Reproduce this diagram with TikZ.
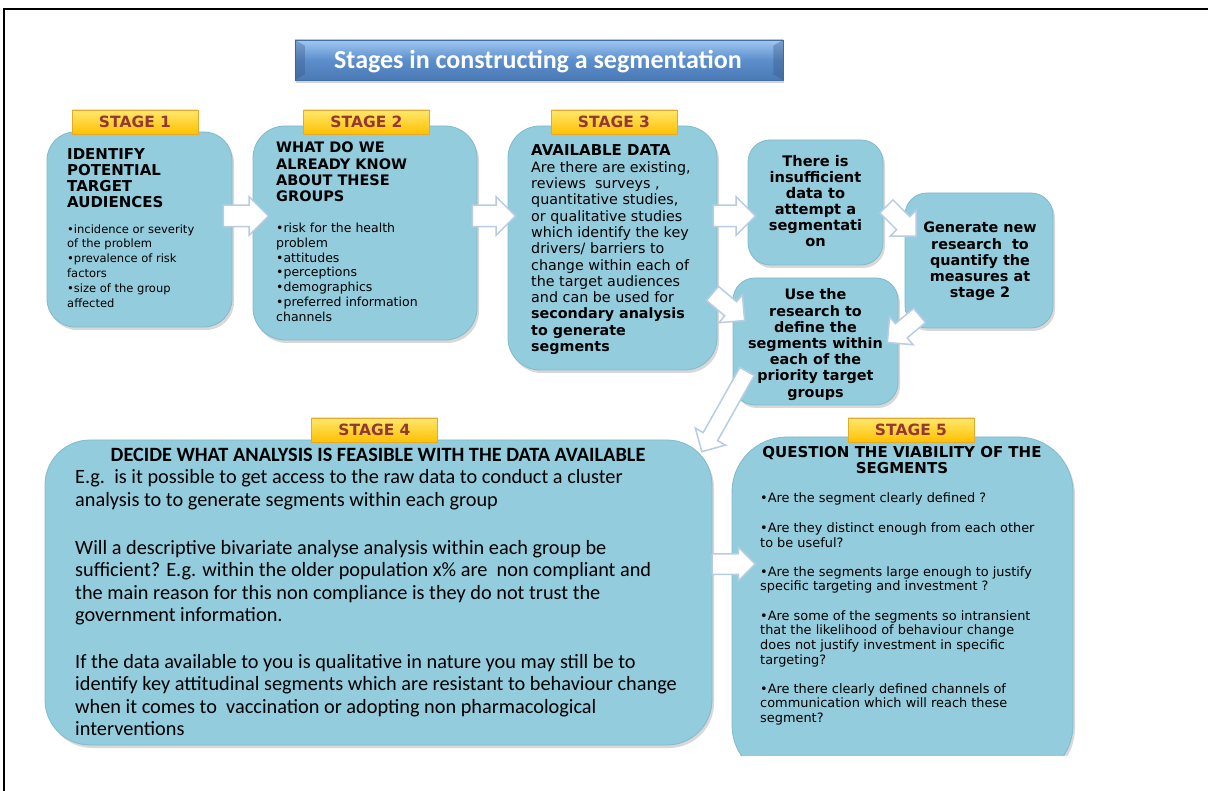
\documentclass[tikz,border=0pt]{standalone}
\usepackage{fontspec}
\setmainfont{DejaVu Sans}
\newfontfamily\calib{Carlito}
\usetikzlibrary{shapes.arrows,shadows}
\definecolor{boxblue}{RGB}{147,204,220}
\definecolor{boxedge}{RGB}{128,186,204}
\definecolor{arrowedge}{RGB}{184,204,228}
\definecolor{stagered}{RGB}{149,55,53}
\definecolor{yellowtop}{RGB}{255,232,110}
\definecolor{yellowbot}{RGB}{255,192,0}
\definecolor{yellowedge}{RGB}{230,170,40}
\definecolor{titletop}{RGB}{160,200,242}
\definecolor{titlemid}{RGB}{92,142,204}
\definecolor{titlebot}{RGB}{74,122,180}
\tikzset{
  box/.style={fill=boxblue, draw=boxedge, line width=0.8pt,
    drop shadow={shadow xshift=2pt, shadow yshift=-3pt, opacity=0.3, fill=gray}},
  stagelabel/.style={rectangle, minimum width=126, minimum height=24, inner sep=0,
    top color=yellowtop, bottom color=yellowbot, draw=yellowedge, line width=0.6pt,
    text=stagered, font=\bfseries\fontsize{15.5}{16}\selectfont},
  blockarrow/.style={single arrow, fill=white, draw=arrowedge, line width=1.5pt,
    inner xsep=0pt, single arrow head indent=0pt},
  txt/.style={anchor=base west, inner sep=0pt},
  ctxt/.style={anchor=base, inner sep=0pt},
}
\begin{document}
\begin{tikzpicture}[x=1pt,y=-1pt]
\useasboundingbox (0,0) rectangle (1208,791);
\fill[white] (0,0) rectangle (1208,791);
% frame (cut off on right and bottom)
\draw[line width=1.5pt] (4,791) -- (4,9) -- (1208,9);

% title
\node[rectangle, minimum width=488, minimum height=40, inner sep=0,
  top color=titletop, bottom color=titlebot, middle color=titlemid, draw=titlebot!90!black, line width=0.5pt,
  drop shadow={shadow xshift=1pt, shadow yshift=-3pt, opacity=0.35, fill=gray}] (title) at (539,60) {};
\fill[titlebot!70!black, opacity=0.35] (title.north west) -- ++(10,6) -- ([shift={(10,-6)}]title.south west) -- (title.south west) -- cycle;
\fill[titlebot!70!black, opacity=0.35] (title.north east) -- ++(-10,6) -- ([shift={(-10,-6)}]title.south east) -- (title.south east) -- cycle;
\node[text=white, font=\calib\bfseries\fontsize{26}{28}\selectfont, inner sep=0] (titletext) at (538,62) {Stages in constructing a segmentation};

% boxes
\node[box, minimum width=185, minimum height=195, rounded corners=28, inner sep=0] (s1) at (139.5,229.5) {};
\node[box, minimum width=224, minimum height=214, rounded corners=32, inner sep=0] (s2) at (365,233) {};
\node[box, minimum width=209, minimum height=244, rounded corners=32, inner sep=0] (s3) at (612.5,248) {};
\node[box, minimum width=135, minimum height=125, rounded corners=22, inner sep=0] (ins) at (815.5,202.5) {};
\node[box, minimum width=148, minimum height=135, rounded corners=22, inner sep=0] (gen) at (979,260.5) {};
\node[box, minimum width=165, minimum height=127, rounded corners=22, inner sep=0] (use) at (815.5,341.5) {};
\node[box, minimum width=667, minimum height=305, rounded corners=45, inner sep=0] (s4) at (378.5,592.5) {};
\begin{scope}
\clip (700,400) rectangle (1100,755);
\node[box, minimum width=341, minimum height=343, rounded corners=55, inner sep=0] (s5) at (902.5,608.5) {};
\end{scope}

% stage labels
\node[stagelabel] (l1) at (135,122) {STAGE 1};
\node[stagelabel] (l2) at (366.5,122) {STAGE 2};
\node[stagelabel] (l3) at (614,122) {STAGE 3};
\node[stagelabel] (l4) at (374.5,430) {STAGE 4};
\node[stagelabel] (l5) at (911,430) {STAGE 5};

% arrows
\node[blockarrow, inner ysep=10pt, minimum height=45, minimum width=37, single arrow head extend=8.5pt] (a12) at (240.5,216) {};
\node[blockarrow, inner ysep=10pt, minimum height=43, minimum width=37, single arrow head extend=8.5pt] (a23) at (488.5,216) {};
\node[blockarrow, inner ysep=10pt, minimum height=42, minimum width=37, single arrow head extend=8.5pt] (a3i) at (729,216) {};
\node[blockarrow, inner ysep=9.5pt, minimum height=43, minimum width=32, single arrow head extend=6.5pt] (a45) at (728.5,564) {};
\node[blockarrow, inner ysep=8.5pt, minimum height=42, minimum width=36, single arrow head extend=9pt, rotate=-45] (aig) at (898,218) {};
\node[blockarrow, inner ysep=8.5pt, minimum height=42, minimum width=36, single arrow head extend=9pt, rotate=-40] (a3u) at (725,304) {};
\node[blockarrow, inner ysep=8.5pt, minimum height=42, minimum width=36, single arrow head extend=9pt, rotate=-140] (agu) at (907,326) {};
\node[blockarrow, inner ysep=7.5pt, minimum height=92, minimum width=33, single arrow head extend=9pt, rotate=-119.4] (au4) at (726.5,408) {};

% stage 1 text
\node[txt] (t1) at (67,160) {\parbox[t]{165pt}{\raggedright
  {\fontsize{15}{15.7}\selectfont\bfseries IDENTIFY\\POTENTIAL\\TARGET\\AUDIENCES\par}
  \vspace{11.2pt}
  {\fontsize{11.5}{14.8}\selectfont •incidence or severity\\of the problem\\•prevalence of risk\\factors\\•size of the group\\affected\par}}};

% stage 2 text
\node[txt] (t2) at (276,153) {\parbox[t]{200pt}{\raggedright
  {\fontsize{14.5}{16.3}\selectfont\bfseries WHAT DO WE\\ALREADY KNOW\\ABOUT THESE\\GROUPS\par}
  \vspace{16.3pt}
  {\fontsize{12.5}{14.7}\selectfont •risk for the health\\problem\\•attitudes\\•perceptions\\•demographics\\•preferred information\\channels\par}}};

% stage 3 text
\node[txt] (t3) at (531,156) {\parbox[t]{190pt}{\raggedright\fontsize{14.3}{16.3}\selectfont
  {\bfseries\fontsize{15}{16.3}\selectfont AVAILABLE DATA}\\
  Are there are existing,\\
  reviews~~surveys ,\\
  quantitative studies,\\
  or qualitative studies\\
  which identify the key\\
  drivers/ barriers to\\
  change within each of\\
  the target audiences\\
  and can be used for\\
  \textbf{secondary analysis}\\
  \textbf{to generate}\\
  \textbf{segments}\par}};

% side boxes text
\node[ctxt] (ti) at (815.5,167) {\parbox[t]{134pt}{\centering\bfseries\fontsize{14.6}{16}\selectfont
  There is\\insufficient\\data to\\attempt a\\segmentati\\on\par}};
\node[ctxt] (tg) at (980,233) {\parbox[t]{150pt}{\centering\bfseries\fontsize{14.4}{16.2}\selectfont
  Generate new\\research~~to\\quantify the\\measures at\\stage 2\par}};
\node[ctxt] (tu) at (815.5,300) {\parbox[t]{165pt}{\centering\bfseries\fontsize{14.4}{16.2}\selectfont
  Use the\\research to\\define the\\segments within\\each of the\\priority target\\groups\par}};

% stage 4 text
\node[ctxt] (t4h) at (378,461) {\calib\bfseries\fontsize{20.3}{22}\selectfont DECIDE WHAT ANALYSIS IS FEASIBLE WITH THE DATA AVAILABLE};
\node[txt] (t4) at (75,484) {\parbox[t]{630pt}{\raggedright\calib\fontsize{20.3}{22.4}\selectfont
  E.g.~~is it possible to get access to the raw data to conduct a cluster\\
  analysis to to generate segments within each group\\[25.5pt]
  Will a descriptive bivariate analyse analysis within each group be\\
  sufficient? E.g. within the older population x\% are~~non compliant and\\
  the main reason for this non compliance is they do not trust the\\
  government information.\\[24.5pt]
  If the data available to you is qualitative in nature you may still be to\\
  identify key attitudinal segments which are resistant to behaviour change\\
  when it comes to~~vaccination or adopting non pharmacological\\
  interventions\par}};

% stage 5 text
\node[ctxt] (t5h) at (902,458) {\parbox[t]{320pt}{\centering\bfseries\fontsize{15}{16}\selectfont
  QUESTION THE VIABILITY OF THE\\SEGMENTS\par}};
\node[txt] (t5) at (760,503) {\parbox[t]{300pt}{\raggedright\fontsize{12.9}{14.5}\selectfont
  •Are the segment clearly defined ?\\[15pt]
  •Are they distinct enough from each other\\to be useful?\\[15pt]
  •Are the segments large enough to justify\\specific targeting and investment ?\\[15pt]
  •Are some of the segments so intransient\\that the likelihood of behaviour change\\does not justify investment in specific\\targeting?\\[15pt]
  •Are there clearly defined channels of\\communication which will reach these\\segment?\par}};
\end{tikzpicture}
\end{document}
